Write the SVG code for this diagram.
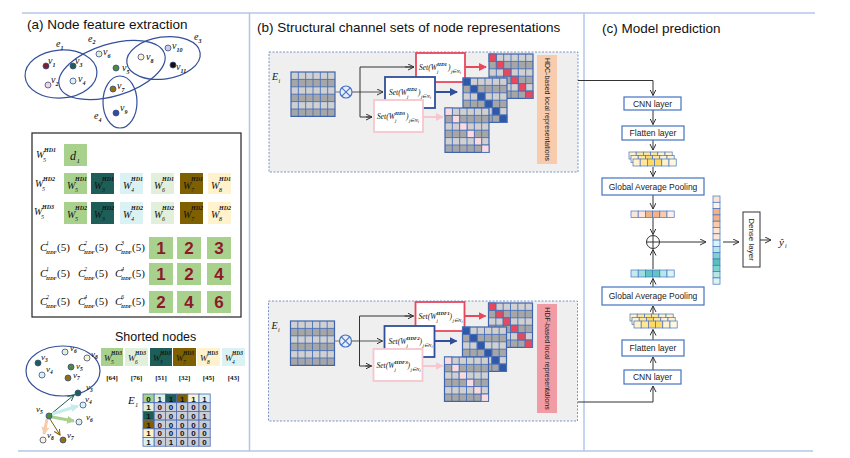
<svg xmlns="http://www.w3.org/2000/svg" xmlns:xlink="http://www.w3.org/1999/xlink" width="850" height="458" viewBox="0 0 850 458">
<style>
.ttl{font-family:"Liberation Sans",Arial,sans-serif;font-size:13.5px;fill:#111}
.m{font-family:"Liberation Serif","Times New Roman",serif;font-style:italic;fill:#111}
.n{font-family:"Liberation Serif","Times New Roman",serif;fill:#111}
.sp{font-weight:bold}
.lbl{font-family:"Liberation Sans",Arial,sans-serif;font-size:8.5px;fill:#222;text-anchor:middle}
.box{fill:#fff;stroke:#4472c4;stroke-width:1.2}
.fr{stroke:#b4c6e7;stroke-width:1.5}
.he{fill:none;stroke:#33509a;stroke-width:1.2}
.dot{stroke:#3c4c86;stroke-width:0.8}
.ar{fill:none;stroke:#333;stroke-width:1}
.num{font-family:"Liberation Sans",Arial,sans-serif;font-size:17px;font-weight:bold;fill:#8b1a2b;text-anchor:middle}
.ec{stroke:#4a6ab0;stroke-width:0.8}
.et{font-family:"Liberation Sans",Arial,sans-serif;font-size:8px;font-weight:bold;fill:#111;text-anchor:middle}
.vc{stroke:#4472c4;stroke-width:0.7}
.g5{fill:#a9d18e}.g6{fill:#e2efda}.g3{fill:#1e5e58}.g7{fill:#7f6000}.g8{fill:#fff2cc}.g4{fill:#daf2f4}
.eg{fill:#c9cdd8}
</style>
<defs>
<marker id="ah" markerWidth="8" markerHeight="8" refX="6" refY="3" orient="auto" markerUnits="userSpaceOnUse"><path d="M0,0 L6,3 L0,6" fill="none" stroke="#333" stroke-width="1"/></marker>
<marker id="ahR" markerWidth="9" markerHeight="9" refX="7" refY="4" orient="auto" markerUnits="userSpaceOnUse"><path d="M0,0 L8,4 L0,8 Z" fill="#e8485c"/></marker>
<marker id="ahB" markerWidth="9" markerHeight="9" refX="7" refY="4" orient="auto" markerUnits="userSpaceOnUse"><path d="M0,0 L8,4 L0,8 Z" fill="#2f4f9a"/></marker>
<marker id="ahP" markerWidth="9" markerHeight="9" refX="7" refY="4" orient="auto" markerUnits="userSpaceOnUse"><path d="M0,0 L8,4 L0,8 Z" fill="#f7c6ce"/></marker>
<marker id="mT" markerWidth="8" markerHeight="8" refX="6" refY="3" orient="auto" markerUnits="userSpaceOnUse"><path d="M0,0 L6,3 L0,6" fill="none" stroke="#1e5e58" stroke-width="1"/></marker>
<marker id="mC" markerWidth="10" markerHeight="10" refX="7" refY="4" orient="auto" markerUnits="userSpaceOnUse"><path d="M0,0 L8,4 L0,8 Z" fill="#c5ecef"/></marker>
<marker id="mG" markerWidth="10" markerHeight="10" refX="7" refY="4" orient="auto" markerUnits="userSpaceOnUse"><path d="M0,0 L8,4 L0,8 Z" fill="#a9d18e"/></marker>
<marker id="mO" markerWidth="10" markerHeight="10" refX="7" refY="4" orient="auto" markerUnits="userSpaceOnUse"><path d="M0,0 L8,4 L0,8 Z" fill="#f8cbad"/></marker>
<marker id="mBr" markerWidth="8" markerHeight="8" refX="6" refY="3" orient="auto" markerUnits="userSpaceOnUse"><path d="M0,0 L6,3 L0,6" fill="none" stroke="#7f6000" stroke-width="1"/></marker>
<g id="gm">
<rect width="44" height="44.4" fill="#d0d0d0"/>
<rect y="7.4" width="44" height="7.4" fill="#a6a6a6"/>
<rect y="22.2" width="44" height="7.4" fill="#a6a6a6"/>
<rect y="37" width="44" height="7.4" fill="#a6a6a6"/>
<path d="M7.33 0V44.4M14.67 0V44.4M22 0V44.4M29.33 0V44.4M36.67 0V44.4M0 7.4H44M0 14.8H44M0 22.2H44M0 29.6H44M0 37H44" stroke="#4a70b8" stroke-width="0.9"/>
<rect width="44" height="44.4" fill="none" stroke="#3e64ad" stroke-width="1.2"/>
</g>
<g id="dg" stroke="#4a70b8" stroke-width="0.9">
<rect x="0" y="0" width="7.33" height="7.4"/><rect x="7.33" y="7.4" width="7.33" height="7.4"/><rect x="14.67" y="14.8" width="7.33" height="7.4"/><rect x="22" y="22.2" width="7.33" height="7.4"/><rect x="29.33" y="29.6" width="7.33" height="7.4"/><rect x="36.67" y="37" width="7.33" height="7.4"/>
</g>
<g id="ym" class="vc">
<g transform="translate(0,0)"><rect x="0" width="7.2" height="7" fill="#fff2cc"/><rect x="7.2" width="7.2" height="7" fill="#ffe699"/><rect x="14.4" width="7.2" height="7" fill="#ffe699"/><rect x="21.6" width="7.2" height="7" fill="#ffe699"/><rect x="28.8" width="7.2" height="7" fill="#fff2cc"/><rect x="36" width="7.2" height="7" fill="#fff2cc"/></g>
<g transform="translate(2,3.5)"><rect x="0" width="7.2" height="7" fill="#fff2cc"/><rect x="7.2" width="7.2" height="7" fill="#ffe699"/><rect x="14.4" width="7.2" height="7" fill="#ffd966"/><rect x="21.6" width="7.2" height="7" fill="#ffe699"/><rect x="28.8" width="7.2" height="7" fill="#fff2cc"/><rect x="36" width="7.2" height="7" fill="#fff2cc"/></g>
<g transform="translate(4,7)"><rect x="0" width="7.2" height="7" fill="#fff2cc"/><rect x="7.2" width="7.2" height="7" fill="#ffe699"/><rect x="14.4" width="7.2" height="7" fill="#ffd966"/><rect x="21.6" width="7.2" height="7" fill="#ffd966"/><rect x="28.8" width="7.2" height="7" fill="#fff2cc"/><rect x="36" width="7.2" height="7" fill="#fff8e1"/></g>
</g>
<rect id="ec" width="11.2" height="8.7"/>
</defs>

<rect width="850" height="458" fill="#fff"/>

<g id="frame">
<line x1="22" y1="13" x2="815" y2="13" class="fr"/>
<line x1="18" y1="451" x2="813" y2="451" class="fr"/>
<line x1="249.5" y1="13" x2="249.5" y2="451" class="fr" stroke="#9fb4de"/>
<line x1="584" y1="13" x2="584" y2="451" class="fr" stroke="#9fb4de"/>
</g>

<text class="ttl" x="27" y="29">(a) Node feature extraction</text>
<text class="ttl" x="257" y="32">(b) Structural channel sets of node representations</text>
<text class="ttl" x="602" y="33">(c) Model prediction</text>

<!-- (a) hypergraph -->
<g id="hypergraph">
<ellipse class="he" cx="61" cy="74" rx="36" ry="24" transform="rotate(-4 61 74)"/>
<ellipse class="he" cx="112" cy="70" rx="55" ry="26" transform="rotate(-17 112 70)"/>
<ellipse class="he" cx="163.5" cy="58" rx="37" ry="21" transform="rotate(-8 163.5 58)"/>
<ellipse class="he" cx="120" cy="102" rx="17" ry="26"/>
<text class="m" font-size="10"><tspan x="56" y="47">e</tspan><tspan x="60.5" y="49.5" font-size="6" class="sp">1</tspan></text>
<text class="m" font-size="10"><tspan x="88" y="41.5">e</tspan><tspan x="92.5" y="44" font-size="6" class="sp">2</tspan></text>
<text class="m" font-size="10"><tspan x="194" y="40">e</tspan><tspan x="198.5" y="42.5" font-size="6" class="sp">3</tspan></text>
<text class="m" font-size="10"><tspan x="94" y="119">e</tspan><tspan x="98.5" y="121.5" font-size="6" class="sp">4</tspan></text>
<circle class="dot" cx="46" cy="66" r="3" fill="#7b1f35"/>
<circle class="dot" cx="48" cy="85" r="3" fill="#f3d4dc"/>
<circle class="dot" cx="73" cy="66" r="3" fill="#1e5e58"/>
<circle class="dot" cx="73" cy="81" r="3" fill="#daf2f4"/>
<circle class="dot" cx="99" cy="54" r="3" fill="#e2efda"/>
<circle class="dot" cx="116" cy="68" r="3" fill="#4f8a3c"/>
<circle class="dot" cx="113" cy="89" r="3" fill="#8f7010"/>
<circle class="dot" cx="116" cy="113" r="3" fill="#2f4fa0"/>
<circle class="dot" cx="141" cy="57" r="3" fill="#fff2cc"/>
<circle class="dot" cx="168" cy="48" r="3" fill="#c6cde6"/>
<circle class="dot" cx="173" cy="65" r="3" fill="#111"/>
<g class="m" font-size="10">
<text><tspan x="48" y="64">v</tspan><tspan x="52.5" y="66.5" font-size="6" class="sp">1</tspan></text>
<text><tspan x="51" y="83">v</tspan><tspan x="55.5" y="85.5" font-size="6" class="sp">2</tspan></text>
<text><tspan x="75" y="64">v</tspan><tspan x="79.5" y="66.5" font-size="6" class="sp">3</tspan></text>
<text><tspan x="78" y="82">v</tspan><tspan x="82.5" y="84.5" font-size="6" class="sp">4</tspan></text>
<text><tspan x="103" y="55">v</tspan><tspan x="107.5" y="57.5" font-size="6" class="sp">6</tspan></text>
<text><tspan x="122" y="71">v</tspan><tspan x="126.5" y="73.5" font-size="6" class="sp">5</tspan></text>
<text><tspan x="117" y="89">v</tspan><tspan x="121.5" y="91.5" font-size="6" class="sp">7</tspan></text>
<text><tspan x="120" y="111">v</tspan><tspan x="124.5" y="113.5" font-size="6" class="sp">9</tspan></text>
<text><tspan x="146" y="60">v</tspan><tspan x="150.5" y="62.5" font-size="6" class="sp">8</tspan></text>
<text><tspan x="172" y="49">v</tspan><tspan x="176.5" y="51.5" font-size="6" class="sp">10</tspan></text>
<text><tspan x="176" y="70">v</tspan><tspan x="180.5" y="72.5" font-size="6" class="sp">11</tspan></text>
</g>
</g>

<!-- (a) table -->
<g id="table">
<rect x="32" y="133" width="209" height="184" fill="#fff" stroke="#222" stroke-width="1.2"/>
<g class="m" font-size="10">
<text><tspan x="36" y="158">W</tspan><tspan x="44" y="152" font-size="6" class="sp">HD1</tspan><tspan x="43" y="162" font-size="6">5</tspan></text>
<text><tspan x="35" y="187">W</tspan><tspan x="43" y="181" font-size="6" class="sp">HD2</tspan><tspan x="42" y="191" font-size="6">5</tspan></text>
<text><tspan x="34" y="215">W</tspan><tspan x="42" y="209" font-size="6" class="sp">HD3</tspan><tspan x="41" y="219" font-size="6">5</tspan></text>
</g>
<rect x="64" y="144" width="23" height="22" class="g5"/>
<text class="m" font-size="12"><tspan x="70" y="160">d</tspan><tspan x="76.5" y="163" font-size="7">1</tspan></text>

<rect x="64" y="173" width="23" height="21" class="g5"/>
<rect x="91" y="173" width="23" height="21" class="g3"/>
<rect x="120" y="173" width="23" height="21" class="g4"/>
<rect x="151" y="173" width="23" height="21" class="g6"/>
<rect x="180" y="173" width="23" height="21" class="g7"/>
<rect x="208" y="173" width="23" height="21" class="g8"/>
<rect x="64" y="202" width="23" height="22" class="g5"/>
<rect x="91" y="202" width="23" height="22" class="g3"/>
<rect x="120" y="202" width="23" height="22" class="g4"/>
<rect x="151" y="202" width="23" height="22" class="g6"/>
<rect x="180" y="202" width="23" height="22" class="g7"/>
<rect x="208" y="202" width="23" height="22" class="g8"/>
<g class="m" font-size="10">
<text><tspan x="67" y="189">W</tspan><tspan x="75" y="181" font-size="6" class="sp">HD1</tspan><tspan x="75" y="192" font-size="6">5</tspan></text>
<text><tspan x="94" y="189">W</tspan><tspan x="102" y="181" font-size="6" class="sp">HD1</tspan><tspan x="102" y="192" font-size="6">3</tspan></text>
<text><tspan x="123" y="189">W</tspan><tspan x="131" y="181" font-size="6" class="sp">HD1</tspan><tspan x="131" y="192" font-size="6">4</tspan></text>
<text><tspan x="154" y="189">W</tspan><tspan x="162" y="181" font-size="6" class="sp">HD1</tspan><tspan x="162" y="192" font-size="6">6</tspan></text>
<text><tspan x="183" y="189">W</tspan><tspan x="191" y="181" font-size="6" class="sp">HD1</tspan><tspan x="191" y="192" font-size="6">7</tspan></text>
<text><tspan x="211" y="189">W</tspan><tspan x="219" y="181" font-size="6" class="sp">HD1</tspan><tspan x="219" y="192" font-size="6">8</tspan></text>
<text><tspan x="67" y="218">W</tspan><tspan x="75" y="210" font-size="6" class="sp">HD2</tspan><tspan x="75" y="221" font-size="6">5</tspan></text>
<text><tspan x="94" y="218">W</tspan><tspan x="102" y="210" font-size="6" class="sp">HD2</tspan><tspan x="102" y="221" font-size="6">3</tspan></text>
<text><tspan x="123" y="218">W</tspan><tspan x="131" y="210" font-size="6" class="sp">HD2</tspan><tspan x="131" y="221" font-size="6">4</tspan></text>
<text><tspan x="154" y="218">W</tspan><tspan x="162" y="210" font-size="6" class="sp">HD2</tspan><tspan x="162" y="221" font-size="6">6</tspan></text>
<text><tspan x="183" y="218">W</tspan><tspan x="191" y="210" font-size="6" class="sp">HD2</tspan><tspan x="191" y="221" font-size="6">7</tspan></text>
<text><tspan x="211" y="218">W</tspan><tspan x="219" y="210" font-size="6" class="sp">HD2</tspan><tspan x="219" y="221" font-size="6">8</tspan></text>
</g>
<g class="m" font-size="11">
<text><tspan x="40" y="251">C</tspan><tspan x="46" y="245" font-size="6">1</tspan><tspan x="46" y="254" font-size="5" class="sp">HDF</tspan><tspan x="57" y="251" font-style="normal">(5)</tspan></text>
<text><tspan x="78" y="251">C</tspan><tspan x="84" y="245" font-size="6">2</tspan><tspan x="84" y="254" font-size="5" class="sp">HDF</tspan><tspan x="95" y="251" font-style="normal">(5)</tspan></text>
<text><tspan x="115" y="251">C</tspan><tspan x="121" y="245" font-size="6">3</tspan><tspan x="121" y="254" font-size="5" class="sp">HDF</tspan><tspan x="132" y="251" font-style="normal">(5)</tspan></text>
<text><tspan x="40" y="277">C</tspan><tspan x="46" y="271" font-size="6">1</tspan><tspan x="46" y="280" font-size="5" class="sp">HDF</tspan><tspan x="57" y="277" font-style="normal">(5)</tspan></text>
<text><tspan x="78" y="277">C</tspan><tspan x="84" y="271" font-size="6">2</tspan><tspan x="84" y="280" font-size="5" class="sp">HDF</tspan><tspan x="95" y="277" font-style="normal">(5)</tspan></text>
<text><tspan x="115" y="277">C</tspan><tspan x="121" y="271" font-size="6">4</tspan><tspan x="121" y="280" font-size="5" class="sp">HDF</tspan><tspan x="132" y="277" font-style="normal">(5)</tspan></text>
<text><tspan x="40" y="305">C</tspan><tspan x="46" y="299" font-size="6">2</tspan><tspan x="46" y="308" font-size="5" class="sp">HDF</tspan><tspan x="57" y="305" font-style="normal">(5)</tspan></text>
<text><tspan x="78" y="305">C</tspan><tspan x="84" y="299" font-size="6">4</tspan><tspan x="84" y="308" font-size="5" class="sp">HDF</tspan><tspan x="95" y="305" font-style="normal">(5)</tspan></text>
<text><tspan x="115" y="305">C</tspan><tspan x="121" y="299" font-size="6">6</tspan><tspan x="121" y="308" font-size="5" class="sp">HDF</tspan><tspan x="132" y="305" font-style="normal">(5)</tspan></text>
</g>
<g class="g5">
<rect x="149" y="237" width="24" height="22"/><rect x="177" y="237" width="24" height="22"/><rect x="207" y="237" width="24" height="22"/>
<rect x="149" y="263" width="24" height="22"/><rect x="177" y="263" width="24" height="22"/><rect x="207" y="263" width="24" height="22"/>
<rect x="149" y="291" width="24" height="22"/><rect x="177" y="291" width="24" height="22"/><rect x="207" y="291" width="24" height="22"/>
</g>
<text class="num" x="161" y="254">1</text><text class="num" x="189" y="254">2</text><text class="num" x="219" y="254">3</text>
<text class="num" x="161" y="280">1</text><text class="num" x="189" y="280">2</text><text class="num" x="219" y="280">4</text>
<text class="num" x="161" y="308">2</text><text class="num" x="189" y="308">4</text><text class="num" x="219" y="308">6</text>
</g>

<!-- (a) sorted nodes -->
<g id="sorted">
<text x="115" y="341" font-family="Liberation Sans, Arial, sans-serif" font-size="12.5" fill="#111">Shorted nodes</text>
<ellipse class="he" cx="63" cy="371" rx="37" ry="25"/>
<circle class="dot" cx="38" cy="363" r="3" fill="#1e5e58"/>
<circle class="dot" cx="42" cy="375" r="3" fill="#daf2f4"/>
<circle class="dot" cx="65" cy="352" r="3" fill="#e2efda"/>
<circle class="dot" cx="71" cy="367" r="3" fill="#4f8a3c"/>
<circle class="dot" cx="87" cy="358" r="3" fill="#fff2cc"/>
<circle class="dot" cx="68" cy="378" r="3" fill="#8f7010"/>
<g class="m" font-size="9">
<text><tspan x="41" y="360">v</tspan><tspan x="45" y="362" font-size="5.5" class="sp">3</tspan></text>
<text><tspan x="46" y="372">v</tspan><tspan x="50" y="374" font-size="5.5" class="sp">4</tspan></text>
<text><tspan x="70" y="351">v</tspan><tspan x="74" y="353" font-size="5.5" class="sp">6</tspan></text>
<text><tspan x="76" y="369">v</tspan><tspan x="80" y="371" font-size="5.5" class="sp">5</tspan></text>
<text><tspan x="91" y="357">v</tspan><tspan x="95" y="359" font-size="5.5" class="sp">8</tspan></text>
<text><tspan x="73" y="378">v</tspan><tspan x="77" y="380" font-size="5.5" class="sp">7</tspan></text>
</g>
<rect x="101" y="348" width="22" height="18" class="g5"/>
<rect x="125" y="348" width="23" height="18" class="g6"/>
<rect x="150" y="348" width="22" height="18" class="g3"/>
<rect x="173" y="348" width="23" height="18" class="g7"/>
<rect x="197" y="348" width="23" height="18" class="g8"/>
<rect x="222" y="348" width="23" height="18" class="g4"/>
<g class="m" font-size="9">
<text><tspan x="104" y="361">W</tspan><tspan x="111" y="355" font-size="5.5" class="sp">HD3</tspan><tspan x="111" y="364" font-size="5.5">5</tspan></text>
<text><tspan x="128" y="361">W</tspan><tspan x="135" y="355" font-size="5.5" class="sp">HD3</tspan><tspan x="135" y="364" font-size="5.5">6</tspan></text>
<text><tspan x="153" y="361">W</tspan><tspan x="160" y="355" font-size="5.5" class="sp">HD3</tspan><tspan x="160" y="364" font-size="5.5">3</tspan></text>
<text><tspan x="176" y="361">W</tspan><tspan x="183" y="355" font-size="5.5" class="sp">HD3</tspan><tspan x="183" y="364" font-size="5.5">7</tspan></text>
<text><tspan x="200" y="361">W</tspan><tspan x="207" y="355" font-size="5.5" class="sp">HD3</tspan><tspan x="207" y="364" font-size="5.5">8</tspan></text>
<text><tspan x="225" y="361">W</tspan><tspan x="232" y="355" font-size="5.5" class="sp">HD3</tspan><tspan x="232" y="364" font-size="5.5">4</tspan></text>
</g>
<g class="n" font-size="7" font-weight="bold" text-anchor="middle">
<text x="112" y="380">[64]</text><text x="136.5" y="380">[76]</text><text x="161" y="380">[51]</text><text x="184.5" y="380">[32]</text><text x="208.5" y="380">[45]</text><text x="233.5" y="380">[43]</text>
</g>
</g>

<!-- (a) star graph -->
<g id="star">
<line x1="51" y1="414" x2="74" y2="395" stroke="#1e5e58" stroke-width="1" marker-end="url(#mT)"/>
<line x1="52" y1="414" x2="78" y2="406" stroke="#c5ecef" stroke-width="3" marker-end="url(#mC)"/>
<line x1="52" y1="417" x2="74" y2="421" stroke="#a9d18e" stroke-width="3" marker-end="url(#mG)"/>
<line x1="47" y1="419" x2="44" y2="434" stroke="#f8cbad" stroke-width="3" marker-end="url(#mO)"/>
<line x1="50" y1="419" x2="60" y2="435" stroke="#7f6000" stroke-width="1" marker-end="url(#mBr)"/>
<circle class="dot" cx="49" cy="416" r="3" fill="#4f8a3c"/>
<circle class="dot" cx="78" cy="393" r="3" fill="#1e5e58"/>
<circle class="dot" cx="83" cy="405" r="3" fill="#daf2f4"/>
<circle class="dot" cx="79" cy="422" r="3" fill="#e2efda"/>
<circle class="dot" cx="43" cy="440" r="3" fill="#fff2cc"/>
<circle class="dot" cx="63" cy="440" r="3" fill="#8f7010"/>
<g class="m" font-size="9">
<text><tspan x="36" y="412">v</tspan><tspan x="40" y="414" font-size="5.5" class="sp">5</tspan></text>
<text><tspan x="86" y="390">v</tspan><tspan x="90" y="392" font-size="5.5" class="sp">3</tspan></text>
<text><tspan x="85" y="402">v</tspan><tspan x="89" y="404" font-size="5.5" class="sp">4</tspan></text>
<text><tspan x="86" y="420">v</tspan><tspan x="90" y="422" font-size="5.5" class="sp">6</tspan></text>
<text><tspan x="47" y="438">v</tspan><tspan x="51" y="440" font-size="5.5" class="sp">8</tspan></text>
<text><tspan x="67" y="438">v</tspan><tspan x="71" y="440" font-size="5.5" class="sp">7</tspan></text>
</g>
</g>

<!-- (a) E1 matrix -->
<g id="E1matrix">
<text class="m" font-size="11"><tspan x="128" y="404">E</tspan><tspan x="135" y="407" font-size="6.5">1</tspan></text>
<g class="ec">
<use href="#ec" x="143" y="394" class="g5"/><use href="#ec" x="154.2" y="394" class="g6"/><use href="#ec" x="165.4" y="394" class="g3"/><use href="#ec" x="176.6" y="394" class="g7"/><use href="#ec" x="187.8" y="394" class="g8"/><use href="#ec" x="199" y="394" class="g4"/>
<use href="#ec" x="143" y="402.7" class="g6"/><use href="#ec" x="154.2" y="402.7" class="eg"/><use href="#ec" x="165.4" y="402.7" class="eg"/><use href="#ec" x="176.6" y="402.7" class="eg"/><use href="#ec" x="187.8" y="402.7" class="eg"/><use href="#ec" x="199" y="402.7" class="eg"/>
<use href="#ec" x="143" y="411.4" class="g3"/><use href="#ec" x="154.2" y="411.4" class="eg"/><use href="#ec" x="165.4" y="411.4" class="eg"/><use href="#ec" x="176.6" y="411.4" class="eg"/><use href="#ec" x="187.8" y="411.4" class="eg"/><use href="#ec" x="199" y="411.4" class="eg"/>
<use href="#ec" x="143" y="420.1" class="g7"/><use href="#ec" x="154.2" y="420.1" class="eg"/><use href="#ec" x="165.4" y="420.1" class="eg"/><use href="#ec" x="176.6" y="420.1" class="eg"/><use href="#ec" x="187.8" y="420.1" class="eg"/><use href="#ec" x="199" y="420.1" class="eg"/>
<use href="#ec" x="143" y="428.8" class="g8"/><use href="#ec" x="154.2" y="428.8" class="eg"/><use href="#ec" x="165.4" y="428.8" class="eg"/><use href="#ec" x="176.6" y="428.8" class="eg"/><use href="#ec" x="187.8" y="428.8" class="eg"/><use href="#ec" x="199" y="428.8" class="eg"/>
<use href="#ec" x="143" y="437.5" class="g4"/><use href="#ec" x="154.2" y="437.5" class="eg"/><use href="#ec" x="165.4" y="437.5" class="eg"/><use href="#ec" x="176.6" y="437.5" class="eg"/><use href="#ec" x="187.8" y="437.5" class="eg"/><use href="#ec" x="199" y="437.5" class="eg"/>
</g>
<g class="et">
<text x="148.6" y="401.5">0</text><text x="159.8" y="401.5">1</text><text x="171" y="401.5">1</text><text x="182.2" y="401.5">1</text><text x="193.4" y="401.5">1</text><text x="204.6" y="401.5">1</text>
<text x="148.6" y="410.2">1</text><text x="159.8" y="410.2">0</text><text x="171" y="410.2">0</text><text x="182.2" y="410.2">0</text><text x="193.4" y="410.2">0</text><text x="204.6" y="410.2">0</text>
<text x="148.6" y="418.9">1</text><text x="159.8" y="418.9">0</text><text x="171" y="418.9">0</text><text x="182.2" y="418.9">0</text><text x="193.4" y="418.9">0</text><text x="204.6" y="418.9">1</text>
<text x="148.6" y="427.6">1</text><text x="159.8" y="427.6">0</text><text x="171" y="427.6">0</text><text x="182.2" y="427.6">0</text><text x="193.4" y="427.6">0</text><text x="204.6" y="427.6">0</text>
<text x="148.6" y="436.3">1</text><text x="159.8" y="436.3">0</text><text x="171" y="436.3">0</text><text x="182.2" y="436.3">0</text><text x="193.4" y="436.3">0</text><text x="204.6" y="436.3">0</text>
<text x="148.6" y="445">1</text><text x="159.8" y="445">0</text><text x="171" y="445">1</text><text x="182.2" y="445">0</text><text x="193.4" y="445">0</text><text x="204.6" y="445">0</text>
</g>
</g>

<!-- (b) blocks: common base -->
<defs>
<g id="blockBase">
<rect x="269" y="52" width="309" height="120" fill="#efefef" stroke="#5b7bbd" stroke-width="0.8" stroke-dasharray="2 1.5"/>
<text class="m" font-size="10"><tspan x="272" y="80">E</tspan><tspan x="278.5" y="82.5" font-size="6">i</tspan></text>
<use href="#gm" x="291" y="72"/>
<line x1="335" y1="92" x2="340" y2="92" stroke="#888" stroke-width="1.2"/>
<circle cx="346" cy="92" r="6" fill="#e8eef8" stroke="#4472c4" stroke-width="1.2"/>
<path d="M341.8 87.8L350.2 96.2M350.2 87.8L341.8 96.2" stroke="#4472c4" stroke-width="1.1"/>
<line x1="352" y1="92" x2="383" y2="92" stroke="#777" stroke-width="1.3" marker-end="url(#ah)"/>
<path d="M360 92V67H414M360 92V117H372" class="ar"/>
<line x1="405" y1="67" x2="414" y2="67" class="ar" marker-end="url(#ah)"/>
<line x1="366" y1="117" x2="372" y2="117" class="ar" marker-end="url(#ah)"/>
<rect x="416" y="53" width="49" height="29" fill="#fff" stroke="#e8485c" stroke-width="1.8"/>
<line x1="465" y1="67" x2="486" y2="67" stroke="#e8485c" stroke-width="2" marker-end="url(#ahR)"/>
<use href="#gm" x="489" y="54"/>
<use href="#dg" x="489" y="54" fill="#e8485c"/>
<rect x="385" y="77" width="50" height="31" fill="#fff" stroke="#2f4f9a" stroke-width="1.8"/>
<line x1="435" y1="92" x2="457" y2="92" stroke="#2f4f9a" stroke-width="2" marker-end="url(#ahB)"/>
<use href="#gm" x="463" y="78"/>
<use href="#dg" x="463" y="78" fill="#2f58a8"/>
<rect x="374" y="100" width="49" height="32" fill="#fff" stroke="#f7c6ce" stroke-width="1.8"/>
<line x1="423" y1="117" x2="443" y2="117" stroke="#f7c6ce" stroke-width="2" marker-end="url(#ahP)"/>
<use href="#gm" x="445" y="108"/>
<use href="#dg" x="445" y="108" fill="#fadadd"/>
</g>
</defs>

<g id="block-hdc">
<use href="#blockBase"/>
<g class="m" font-size="7.5">
<text><tspan x="419" y="70">Set(W</tspan><tspan x="437" y="65.5" font-size="5" class="sp">HD1</tspan><tspan x="437" y="72.5" font-size="5">j</tspan><tspan x="448" y="70">)</tspan><tspan x="451" y="72.5" font-size="5">j∈N</tspan><tspan x="460" y="73.5" font-size="4">i</tspan></text>
<text><tspan x="389" y="95">Set(W</tspan><tspan x="407" y="90.5" font-size="5" class="sp">HD2</tspan><tspan x="407" y="97.5" font-size="5">j</tspan><tspan x="418" y="95">)</tspan><tspan x="421" y="97.5" font-size="5">j∈N</tspan><tspan x="430" y="98.5" font-size="4">i</tspan></text>
<text><tspan x="377" y="119">Set(W</tspan><tspan x="395" y="114.5" font-size="5" class="sp">HD3</tspan><tspan x="395" y="121.5" font-size="5">j</tspan><tspan x="406" y="119">)</tspan><tspan x="409" y="121.5" font-size="5">j∈N</tspan><tspan x="418" y="122.5" font-size="4">i</tspan></text>
</g>
<rect x="537" y="55" width="20" height="109" fill="#f8cbad"/>
<text x="547" y="109.5" transform="rotate(90 547 109.5)" font-family="Liberation Sans, Arial, sans-serif" font-size="7" fill="#222" text-anchor="middle" dominant-baseline="central">HDC-based local representations</text>
</g>

<g id="block-hdf" >
<use href="#blockBase" transform="translate(-0.5,249)"/>
<g class="m" font-size="7.5" transform="translate(-0.5,249)">
<text><tspan x="419" y="70">Set(W</tspan><tspan x="437" y="65.5" font-size="5" class="sp">HDF1</tspan><tspan x="437" y="72.5" font-size="5">j</tspan><tspan x="450" y="70">)</tspan><tspan x="453" y="72.5" font-size="5">j∈N</tspan><tspan x="462" y="73.5" font-size="4">i</tspan></text>
<text><tspan x="389" y="95">Set(W</tspan><tspan x="407" y="90.5" font-size="5" class="sp">HDF2</tspan><tspan x="407" y="97.5" font-size="5">j</tspan><tspan x="420" y="95">)</tspan><tspan x="423" y="97.5" font-size="5">j∈N</tspan><tspan x="432" y="98.5" font-size="4">i</tspan></text>
<text><tspan x="377" y="119">Set(W</tspan><tspan x="395" y="114.5" font-size="5" class="sp">HDF3</tspan><tspan x="395" y="121.5" font-size="5">j</tspan><tspan x="408" y="119">)</tspan><tspan x="411" y="121.5" font-size="5">j∈N</tspan><tspan x="420" y="122.5" font-size="4">i</tspan></text>
</g>
<rect x="537" y="304" width="20" height="109" fill="#f19ca5"/>
<text x="547" y="358.5" transform="rotate(90 547 358.5)" font-family="Liberation Sans, Arial, sans-serif" font-size="7" fill="#222" text-anchor="middle" dominant-baseline="central">HDF-based local representations</text>
</g>

<!-- connectors -->
<g id="connectors">
<path d="M578 80.5H653V95.5" class="ar" marker-end="url(#ah)"/>
<path d="M578 402H653V386" class="ar" marker-end="url(#ah)"/>
<line x1="653" y1="110" x2="653" y2="124.5" class="ar" marker-end="url(#ah)"/>
<line x1="653" y1="140" x2="653" y2="150" class="ar" marker-end="url(#ah)"/>
<line x1="653" y1="167" x2="653" y2="176.5" class="ar" marker-end="url(#ah)"/>
<line x1="653" y1="195" x2="653" y2="209" class="ar" marker-end="url(#ah)"/>
<line x1="653" y1="218" x2="653" y2="234.5" class="ar" marker-end="url(#ah)"/>
<line x1="660" y1="242" x2="706" y2="242" class="ar" marker-end="url(#ah)"/>
<line x1="723" y1="242" x2="739" y2="242" class="ar" marker-end="url(#ah)"/>
<line x1="760" y1="240" x2="771" y2="240" class="ar" marker-end="url(#ah)"/>
<line x1="653" y1="269" x2="653" y2="249.5" class="ar" marker-end="url(#ah)"/>
<line x1="653" y1="287" x2="653" y2="278.5" class="ar" marker-end="url(#ah)"/>
<line x1="653" y1="314" x2="653" y2="306" class="ar" marker-end="url(#ah)"/>
<line x1="653" y1="340" x2="653" y2="329.5" class="ar" marker-end="url(#ah)"/>
<line x1="653" y1="370" x2="653" y2="357" class="ar" marker-end="url(#ah)"/>
</g>

<!-- (c) nodes -->
<g id="cnn1"><rect class="box" x="624" y="97" width="57" height="13"/><text class="lbl" x="652.5" y="106.5">CNN layer</text></g>
<g id="flatten1"><rect class="box" x="622" y="126" width="62" height="14"/><text class="lbl" x="653" y="136">Flatten layer</text></g>
<g id="maps1"><use href="#ym" x="629" y="152"/></g>
<g id="gap1"><rect class="box" x="602" y="178" width="102" height="17"/><text class="lbl" x="653" y="189.5">Global Average Pooling</text></g>
<g id="vec1" class="vc">
<rect x="631" y="211" width="7.2" height="6.5" fill="#fbe5d6"/><rect x="638.2" y="211" width="7.2" height="6.5" fill="#fbe5d6"/><rect x="645.4" y="211" width="7.2" height="6.5" fill="#f4b183"/><rect x="652.6" y="211" width="7.2" height="6.5" fill="#f4b183"/><rect x="659.8" y="211" width="7.2" height="6.5" fill="#f8cbad"/><rect x="667" y="211" width="7.2" height="6.5" fill="#fdf0e8"/>
</g>
<g id="sum"><circle cx="653" cy="242" r="6.5" fill="#fff" stroke="#333" stroke-width="1"/><path d="M646.5 242H659.5M653 235.5V248.5" stroke="#333" stroke-width="1"/></g>
<g id="vec2" class="vc">
<rect x="631" y="270" width="7.2" height="7" fill="#c5ecec"/><rect x="638.2" y="270" width="7.2" height="7" fill="#9fdede"/><rect x="645.4" y="270" width="7.2" height="7" fill="#5fc7c0"/><rect x="652.6" y="270" width="7.2" height="7" fill="#5fc7c0"/><rect x="659.8" y="270" width="7.2" height="7" fill="#b7e6e6"/><rect x="667" y="270" width="7.2" height="7" fill="#daf3f3"/>
</g>
<g id="gap2"><rect class="box" x="602" y="287" width="102" height="18"/><text class="lbl" x="653" y="299">Global Average Pooling</text></g>
<g id="maps2"><use href="#ym" x="630" y="314"/></g>
<g id="flatten2"><rect class="box" x="622" y="340" width="62" height="16"/><text class="lbl" x="653" y="351">Flatten layer</text></g>
<g id="cnn2"><rect class="box" x="624" y="370" width="57" height="14"/><text class="lbl" x="652.5" y="380">CNN layer</text></g>
<g id="concat" class="vc">
<rect x="713" y="196" width="7" height="6.3" fill="#fbe5d6"/><rect x="713" y="202.3" width="7" height="6.3" fill="#fdf2ea"/><rect x="713" y="208.6" width="7" height="6.3" fill="#f4b183"/><rect x="713" y="214.9" width="7" height="6.3" fill="#f4b183"/><rect x="713" y="221.2" width="7" height="6.3" fill="#f8cbad"/><rect x="713" y="227.5" width="7" height="6.3" fill="#fbe5d6"/><rect x="713" y="233.8" width="7" height="6.3" fill="#fbe5d6"/>
<rect x="713" y="240.1" width="7" height="6.3" fill="#daf3f3"/><rect x="713" y="246.4" width="7" height="6.3" fill="#b7e6e6"/><rect x="713" y="252.7" width="7" height="6.3" fill="#7fd3cf"/><rect x="713" y="259" width="7" height="6.3" fill="#57c2bb"/><rect x="713" y="265.3" width="7" height="6.3" fill="#7fd3cf"/><rect x="713" y="271.6" width="7" height="6.3" fill="#b7e6e6"/><rect x="713" y="277.9" width="7" height="6.3" fill="#daf3f3"/>
</g>
<g id="dense"><rect x="743" y="212" width="17" height="55" fill="#fff" stroke="#333" stroke-width="1"/><text x="751.5" y="239.5" transform="rotate(90 751.5 239.5)" font-family="Liberation Sans, Arial, sans-serif" font-size="8" fill="#222" text-anchor="middle" dominant-baseline="central">Dense layer</text></g>
<g id="output"><text class="m" font-size="11"><tspan x="779" y="246">ŷ</tspan><tspan x="785" y="248" font-size="6">i</tspan></text></g>
</svg>
